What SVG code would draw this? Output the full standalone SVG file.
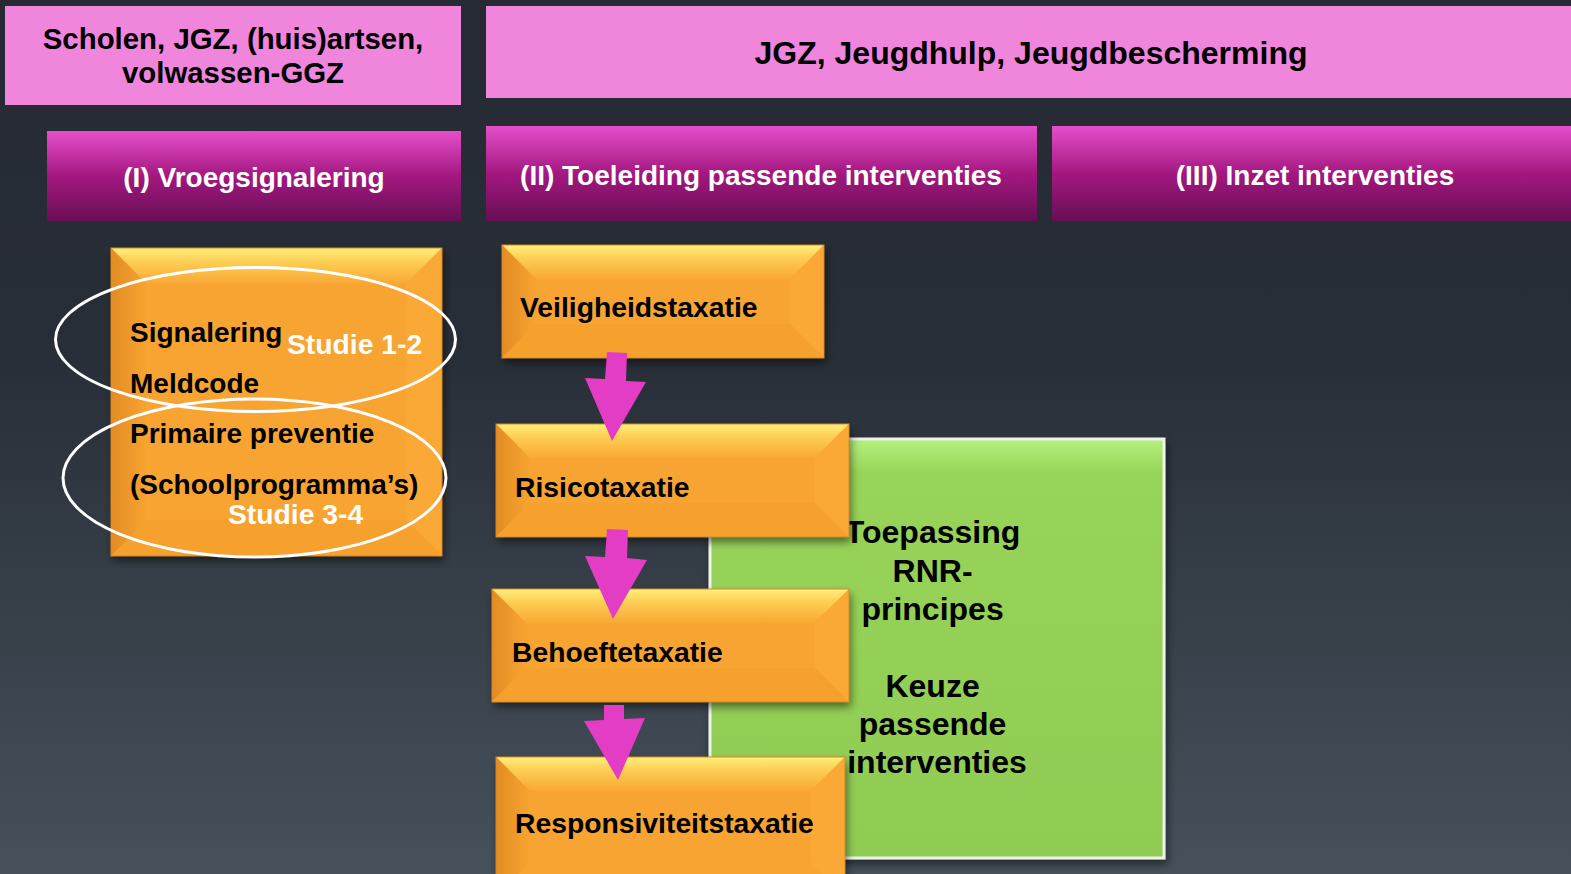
<svg xmlns="http://www.w3.org/2000/svg" width="1571" height="874" viewBox="0 0 1571 874">
<defs>
<linearGradient id="bg" x1="0" y1="0" x2="0" y2="1">
<stop offset="0" stop-color="#252a33"/><stop offset="0.4" stop-color="#282e37"/><stop offset="1" stop-color="#46515b"/>
</linearGradient>
<linearGradient id="hdr" x1="0" y1="0" x2="0" y2="1">
<stop offset="0" stop-color="#e64ecc"/><stop offset="0.5" stop-color="#a3187f"/><stop offset="1" stop-color="#680e55"/>
</linearGradient>
<linearGradient id="bevTop" x1="0" y1="0" x2="0" y2="1">
<stop offset="0" stop-color="#fff07c"/><stop offset="0.35" stop-color="#fdd056"/><stop offset="1" stop-color="#f9a834"/>
</linearGradient>
<linearGradient id="bevLeft" x1="0" y1="0" x2="1" y2="0">
<stop offset="0" stop-color="#e28c24"/><stop offset="1" stop-color="#f8a431"/>
</linearGradient>
<linearGradient id="grn" x1="0" y1="0" x2="0" y2="1">
<stop offset="0" stop-color="#b4f07e"/><stop offset="0.08" stop-color="#98d45a"/><stop offset="1" stop-color="#90cb52"/>
</linearGradient>
<filter id="sh" x="-10%" y="-10%" width="120%" height="130%">
<feDropShadow dx="2" dy="5" stdDeviation="4" flood-color="#000" flood-opacity="0.5"/>
</filter>
</defs>
<style>
text{font-family:"Liberation Sans",Arial,sans-serif;font-weight:bold}
.blk{fill:#000}
.wht{fill:#fff}
.pink{fill:#ef86dc}
.hdr{fill:url(#hdr)}
.base{fill:#f8a431}
.top{fill:url(#bevTop)}
.left{fill:url(#bevLeft)}
.right{fill:#faa836}
.bot{fill:#f6a02d}
.edge{fill:none;stroke:#d98a25;stroke-width:1}
.ell{fill:none;stroke:#fff;stroke-width:3}
.arr{fill:#e33cc5}
</style>
<rect x="0" y="0" width="1571" height="874" fill="url(#bg)"/>

<g id="org-left">
<rect class="pink" x="5" y="6" width="456" height="99"/>
<text class="blk" x="233" y="49" font-size="29.4" text-anchor="middle">Scholen, JGZ, (huis)artsen,</text>
<text class="blk" x="233" y="83" font-size="29.4" text-anchor="middle">volwassen-GGZ</text>
</g>
<g id="org-right">
<rect class="pink" x="486" y="6" width="1085" height="92"/>
<text class="blk" x="1031" y="64" font-size="32" text-anchor="middle">JGZ, Jeugdhulp, Jeugdbescherming</text>
</g>

<g id="phase-1">
<rect class="hdr" x="47" y="131" width="414" height="90"/>
<text class="wht" x="254" y="187" font-size="28" text-anchor="middle">(I) Vroegsignalering</text>
</g>
<g id="phase-2">
<rect class="hdr" x="486" y="126" width="551" height="95"/>
<text class="wht" x="761" y="185" font-size="28" text-anchor="middle">(II) Toeleiding passende interventies</text>
</g>
<g id="phase-3">
<rect class="hdr" x="1052" y="126" width="519" height="95"/>
<text class="wht" x="1315" y="185" font-size="28" text-anchor="middle">(III) Inzet interventies</text>
</g>

<g id="vroeg-box">
<g filter="url(#sh)">
<rect class="base" x="111" y="248" width="331" height="308"/>
</g>
<polygon class="top" points="111,248 442,248 406,284 147,284"/>
<polygon class="left" points="111,248 147,284 147,520 111,556"/>
<polygon class="right" points="442,248 442,556 406,520 406,284"/>
<polygon class="bot" points="111,556 147,520 406,520 442,556"/>
<rect class="edge" x="111" y="248" width="331" height="308"/>
<text class="blk" x="130" y="342" font-size="28">Signalering</text>
<text class="blk" x="130" y="393" font-size="28">Meldcode</text>
<text class="blk" x="130" y="443" font-size="28">Primaire preventie</text>
<text class="blk" x="130" y="494" font-size="28">(Schoolprogramma’s)</text>
</g>
<g id="studie-1-2">
<ellipse class="ell" cx="255.5" cy="339.5" rx="200" ry="72"/>
<text class="wht" x="287" y="354" font-size="28.3">Studie 1-2</text>
</g>
<g id="studie-3-4">
<ellipse class="ell" cx="254.5" cy="478" rx="191.5" ry="79"/>
<text class="wht" x="228" y="524" font-size="28.3">Studie 3-4</text>
</g>

<g id="rnr-box">
<g filter="url(#sh)">
<rect x="710" y="439" width="454" height="419" fill="url(#grn)" stroke="#eef3ea" stroke-width="3"/>
</g>
<text class="blk" font-size="32" text-anchor="middle">
<tspan x="937" y="543">Toepassing</tspan>
<tspan x="937" y="582">RNR-</tspan>
<tspan x="937" y="620">principes</tspan>
<tspan x="937" y="697">Keuze</tspan>
<tspan x="937" y="735">passende</tspan>
<tspan x="937" y="773">interventies</tspan>
</text>
</g>

<g id="veiligheid">
<g filter="url(#sh)"><rect class="base" x="502" y="245" width="322" height="113"/></g>
<polygon class="top" points="502,245 824,245 790,279 536,279"/>
<polygon class="left" points="502,245 536,279 536,324 502,358"/>
<polygon class="right" points="824,245 824,358 790,324 790,279"/>
<polygon class="bot" points="502,358 536,324 790,324 824,358"/>
<rect class="edge" x="502" y="245" width="322" height="113"/>
<text class="blk" x="520" y="317" font-size="28.3">Veiligheidstaxatie</text>
</g>

<g id="risico">
<g filter="url(#sh)"><rect class="base" x="496" y="424" width="353" height="113"/></g>
<polygon class="top" points="496,424 849,424 815,458 530,458"/>
<polygon class="left" points="496,424 530,458 530,503 496,537"/>
<polygon class="right" points="849,424 849,537 815,503 815,458"/>
<polygon class="bot" points="496,537 530,503 815,503 849,537"/>
<rect class="edge" x="496" y="424" width="353" height="113"/>
<text class="blk" x="515" y="497" font-size="28.3">Risicotaxatie</text>
</g>

<g id="behoefte">
<g filter="url(#sh)"><rect class="base" x="492" y="589" width="357" height="113"/></g>
<polygon class="top" points="492,589 849,589 815,623 526,623"/>
<polygon class="left" points="492,589 526,623 526,668 492,702"/>
<polygon class="right" points="849,589 849,702 815,668 815,623"/>
<polygon class="bot" points="492,702 526,668 815,668 849,702"/>
<rect class="edge" x="492" y="589" width="357" height="113"/>
<text class="blk" x="512" y="662" font-size="28.3">Behoeftetaxatie</text>
</g>

<g id="responsiviteit">
<g filter="url(#sh)"><rect class="base" x="496" y="757" width="349" height="140"/></g>
<polygon class="top" points="496,757 845,757 811,791 530,791"/>
<polygon class="left" points="496,757 530,791 530,863 496,897"/>
<polygon class="right" points="845,757 845,897 811,863 811,791"/>
<rect class="edge" x="496" y="757" width="349" height="140"/>
<text class="blk" x="515" y="833" font-size="28.3">Responsiviteitstaxatie</text>
</g>

<g id="connectors">
<polygon class="arr" points="607,352 627,353 626,381 646,382 612,441 585,378 605,379"/>
<polygon class="arr" points="607,529 628,530 627,558 647,560 613,619 585,556 605,557"/>
<polygon class="arr" points="604,705 624,705 624,719 645,718 618,780 584,721 604,720"/>
</g>
</svg>
